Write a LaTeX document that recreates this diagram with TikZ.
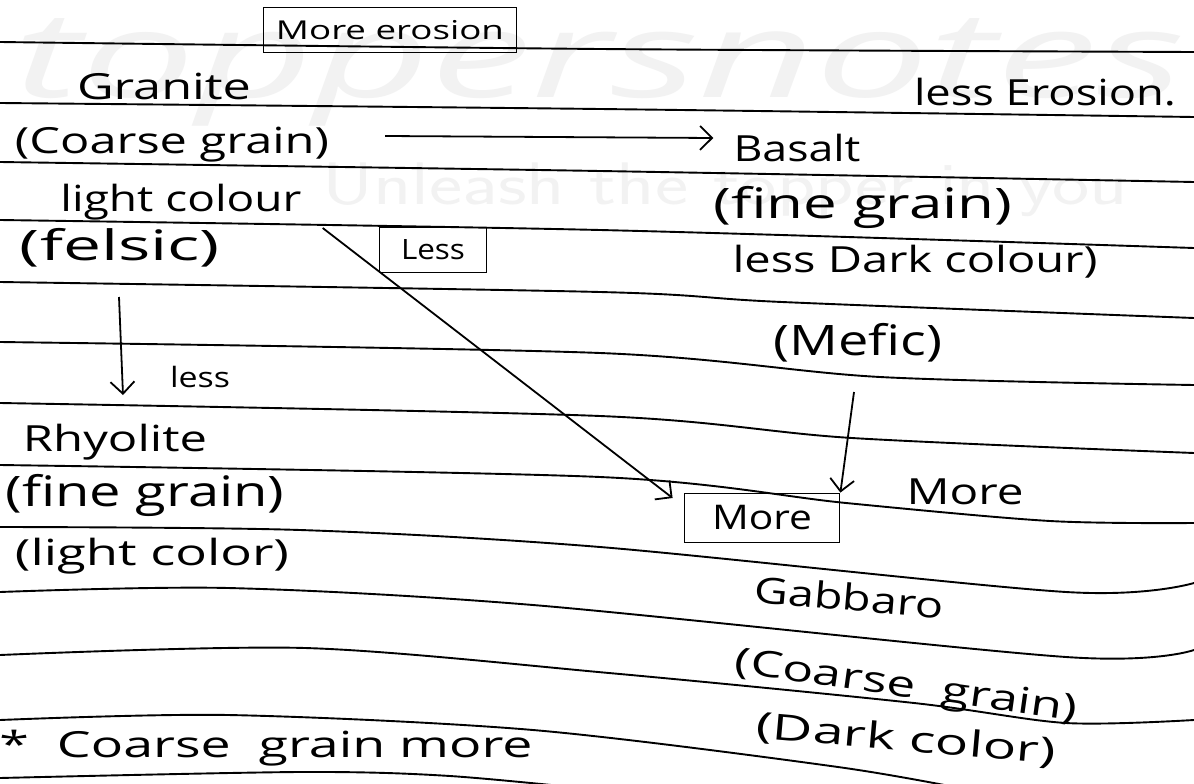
\documentclass[tikz,border=0pt]{standalone}
\usepackage{fontspec}
\setmainfont{Open Sans}
\usepackage{graphicx}
\usetikzlibrary{arrows.meta,calc}
\newcommand{\fitw}[2]{\resizebox{#1pt}{\height}{#2}}
\begin{document}
\begin{tikzpicture}[x=1pt,y=-1pt,
  hw/.style={inner sep=0pt, font=\fontsize{36}{40}\selectfont},
  hwl/.style={inner sep=0pt, font=\fontsize{42}{46}\selectfont},
  hws/.style={inner sep=0pt, font=\fontsize{28}{32}\selectfont},
  rule/.style={line width=1.9pt, black},
  boxed/.style={draw, line width=1.8pt, inner sep=0pt},
  arr/.style={line width=1.8pt, -{Straight Barb[length=12pt,width=24pt,line width=1.8pt]}},
  wm/.style={text=black!5, inner sep=0pt}]
\useasboundingbox (0,0) rectangle (1194,784);
\fill[white] (0,0) rectangle (1194,784);

% faint watermark
\node[wm, font=\fontsize{120}{120}\selectfont\itshape] (wm1) at (600,72) {\fitw{1170}{toppersnotes}};
\node[wm, font=\sffamily\fontsize{60}{60}\selectfont] (wm2) at (725,190) {\fitw{805}{Unleash the topper in you}};

% ruled lines
\draw[rule] plot[smooth] coordinates {(0,42) (600,49) (1194,52)};
\draw[rule] plot[smooth] coordinates {(0,103) (600,109) (1194,117)};
\draw[rule] plot[smooth] coordinates {(0,162) (600,171) (1194,182)};
\draw[rule] plot[smooth] coordinates {(0,220) (600,230) (1194,248)};
\draw[rule] plot[smooth] coordinates {(0,282) (600,292) (782,302) (1194,318)};
\draw[rule] plot[smooth] coordinates {(0,342) (600,353) (880,377) (1194,385)};
\draw[rule] plot[smooth] coordinates {(0,403) (600,416) (852,438) (1194,453)};
\draw[rule] plot[smooth] coordinates {(0,465) (600,477) (846,503) (1050,521) (1194,523)};
\draw[rule] plot[smooth] coordinates {(0,527) (300,530) (600,547) (1066,592) (1194,583)};
\draw[rule] plot[smooth] coordinates {(0,592) (228,588) (533,605) (1066,657) (1194,650)};
\draw[rule] plot[smooth] coordinates {(0,655) (305,648) (609,673) (914,703) (1066,723) (1194,720)};
\draw[rule] plot[smooth] coordinates {(0,720) (228,715) (533,730) (838,767) (980,792)};
\draw[rule] plot[smooth] coordinates {(0,778) (300,772) (450,776) (620,792)};

% boxes
\node[boxed, minimum width=253pt, minimum height=45pt, font=\fontsize{26}{30}\selectfont] (moreer) at (390,30) {\fitw{228}{More erosion}};
\node[boxed, minimum width=107pt, minimum height=45pt, font=\fontsize{28}{32}\selectfont] (lessbox) at (433,250) {\fitw{64}{Less}};
\node[boxed, minimum width=155pt, minimum height=49pt, font=\fontsize{34}{38}\selectfont] (morebox) at (762,518) {\fitw{100}{More}};

% left column
\node[hw] (granite) at (164,86) {\fitw{174}{Granite}};
\node[hw] (cg) at (172,145) {\fitw{314}{(Coarse grain)}};
\node[hw] (lc) at (181,202) {\fitw{241}{light colour}};
\node[hwl] (felsic) at (120,248) {\fitw{200}{(felsic)}};
\node[hws] (lessl) at (200,377) {\fitw{60}{less}};
\node[hw] (rhy) at (115,442) {\fitw{184}{Rhyolite}};
\node[hwl] (fg1) at (145,495) {\fitw{279}{(fine grain)}};
\node[hw] (lcol) at (152,556) {\fitw{274}{(light color)}};
\node[hw] (note) at (266,748) {\fitw{533}{*\ \ Coarse\ \ grain\ more}};

% right column
\node[hw] (lesser) at (1045,92) {\fitw{262}{less Erosion.}};
\node[hw] (basalt) at (797,148) {\fitw{127}{Basalt}};
\node[hwl] (fg2) at (863,207) {\fitw{299}{(fine grain)}};
\node[hw] (ldc) at (915,262) {\fitw{365}{less Dark colour)}};
\node[hwl] (mefic) at (858,343) {\fitw{169}{(Mefic)}};
\node[hw] (morer) at (965,492) {\fitw{117}{More}};
\node[hw, rotate=-5] (gab) at (849,597) {\fitw{190}{Gabbaro}};
\node[hw, rotate=-8] (cg2) at (906,688) {\fitw{345}{(Coarse\ \ grain)}};
\node[hw, rotate=-5] (dc) at (906,740) {\fitw{300}{(Dark color)}};

% connectors
\draw[arr] ($(cg.east)+(56,-9)$) -- ($(basalt.west)+(-20,-10)$);
\draw[arr] ($(lc.east)+(21,26)$) -- ($(morebox.west)+(-11,-20)$);
\draw[arr] ($(felsic.center)+(-1,49)$) -- ($(rhy.center)+(8,-47)$);
\draw[arr] ($(mefic.center)+(-4,49)$) -- (morebox.north east);
\end{tikzpicture}
\end{document}
